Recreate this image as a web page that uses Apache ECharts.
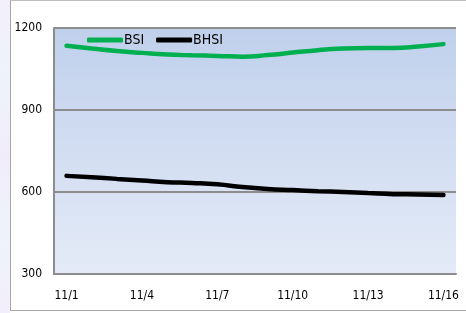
<!DOCTYPE html>
<html>
<head>
<meta charset="utf-8">
<script src="https://cdn.jsdelivr.net/npm/echarts@6/dist/echarts.min.js"></script>
<style>
    html, body { margin: 0; padding: 0; background: #fff; }
    #strip { position: absolute; left: 0; top: 0; width: 10px; height: 313px;
             background: linear-gradient(180deg, #f3effb, #eef3fb, #f1ecfa, #eef3fb, #f3eefb); }
    #frame { position: absolute; left: 10px; top: 0; width: 456px; height: 309px;
             border-left: 1px solid #a6a6a6; border-top: 1px solid #bdbdbd; border-bottom: 1px solid #a6a6a6; }
    #chart { position: absolute; left: 0; top: 0; width: 466px; height: 313px; }
</style>
</head>
<body>
<div id="strip"></div>
<div id="frame"></div>
<div id="chart"></div>
<script>
// 日期
const dates = ['11/1', '11/2', '11/3', '11/4', '11/5', '11/6', '11/7', '11/8',
               '11/9', '11/10', '11/11', '11/12', '11/13', '11/14', '11/15', '11/16'];
// BSI 指数
const bsi = [1135, 1125, 1116, 1109, 1103, 1100, 1098, 1095,
             1101, 1110, 1119, 1125, 1127, 1127, 1132, 1141];
// BHSI 指数
const bhsi = [659, 654, 648, 642, 636, 633, 628, 618,
              611, 607, 603, 600, 596, 592, 591, 589];

const chart = echarts.init(document.getElementById('chart'));

const option = {
    animation: false,
    textStyle: { fontFamily: 'DejaVu Sans Condensed, Liberation Sans, sans-serif' },
    legend: {
        left: 82,
        top: 28,
        itemWidth: 36,
        itemHeight: 5,
        itemGap: 12,
        textStyle: { fontSize: 14, color: '#000', padding: [0, 0, 0, -4] },
        data: [
            { name: 'BSI', icon: 'roundRect' },
            { name: 'BHSI', icon: 'roundRect' }
        ]
    },
    grid: {
        left: 54,
        top: 28,
        right: 10,
        bottom: 39,
        show: true,
        borderWidth: 0,
        backgroundColor: new echarts.graphic.LinearGradient(0, 0, 0, 1, [
            { offset: 0, color: '#c0d0ec' },
            { offset: 1, color: '#e4ebf7' }
        ])
    },
    xAxis: {
        type: 'category',
        data: dates,
        boundaryGap: true,
        axisLine: { lineStyle: { color: '#8c8c8c', width: 2 } },
        axisTick: { show: false },
        axisLabel: { interval: 2, color: '#000', fontSize: 12, margin: 16 }
    },
    yAxis: {
        type: 'value',
        min: 300,
        max: 1200,
        interval: 300,
        axisLine: { show: true, lineStyle: { color: '#8c8c8c', width: 2 } },
        axisTick: { show: false },
        axisLabel: { color: '#000', fontSize: 12, margin: 12, formatter: function(v) { return String(v); } },
        splitLine: { lineStyle: { color: '#8c8c8c', width: 2 } }
    },
    series: [
        {
            name: 'BSI',
            type: 'line',
            data: bsi,
            smooth: true,
            symbol: 'none',
            lineStyle: { color: '#00b050', width: 4.5, cap: 'round' },
            itemStyle: { color: '#00b050' }
        },
        {
            name: 'BHSI',
            type: 'line',
            data: bhsi,
            smooth: true,
            symbol: 'none',
            lineStyle: { color: '#000', width: 4.5, cap: 'round' },
            itemStyle: { color: '#000' }
        }
    ]
};

chart.setOption(option);
</script>
</body>
</html>
